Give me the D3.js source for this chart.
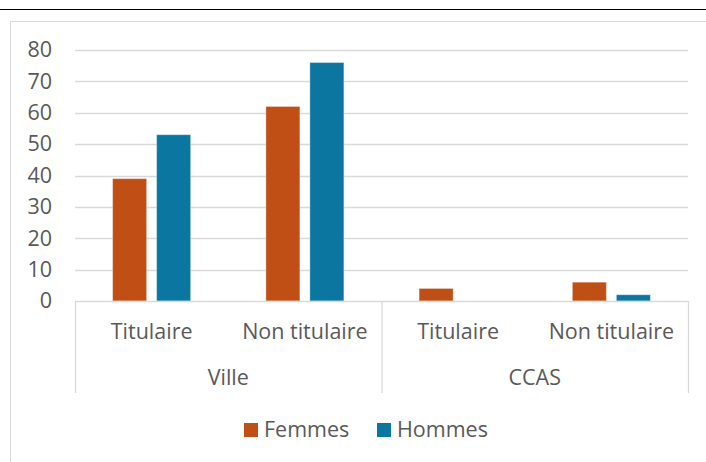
<!DOCTYPE html>
<html>
<head>
<meta charset="utf-8">
<script src="https://cdn.jsdelivr.net/npm/d3@7"></script>
<style>
  body { margin: 0; background: white; }
  text { font-family: 'Open Sans', sans-serif; fill: #595959; font-size: 21.5px; }
</style>
</head>
<body>
<script>
const groups = ['Ville', 'CCAS']
const statuts = ['Titulaire', 'Non titulaire']
const series = ['Femmes', 'Hommes']
const femmes = [39, 62, 4, 6]
const hommes = [53, 76, 0, 2]
const yTicks = [0, 10, 20, 30, 40, 50, 60, 70, 80]
const colors = ['#C04F15', '#0B76A0']

const cats = []
groups.forEach(g => statuts.forEach(s => cats.push({ group: g, statut: s, key: g + '|' + s })))
cats.forEach((c, i) => { c.values = [femmes[i], hommes[i]] })

const W = 706, H = 462
const svg = d3.select('body').append('svg')
    .attr('width', W)
    .attr('height', H)

// top rule and chart frame
svg.append('line')
    .attr('x1', 0).attr('x2', W)
    .attr('y1', 9.5).attr('y2', 9.5)
    .attr('stroke', '#000')
svg.append('rect')
    .attr('x', 10.5).attr('y', 21.5)
    .attr('width', 720).attr('height', 460)
    .attr('fill', 'none')
    .attr('stroke', '#d9d9d9')

const plot = { left: 75, right: 688, top: 50, bottom: 301 }

const x = d3.scaleBand()
    .domain(cats.map(d => d.key))
    .range([plot.left, plot.right])
    .paddingInner(0)
    .paddingOuter(0)

const xInner = d3.scaleBand()
    .domain(series)
    .range([0, x.bandwidth()])
    .paddingInner(0.227)
    .paddingOuter(0.855)

const y = d3.scaleLinear()
    .domain([0, 80])
    .range([plot.bottom, plot.top])

// gridlines
svg.append('g')
    .selectAll('line')
    .data(yTicks.slice(1))
    .enter().append('line')
    .attr('x1', plot.left).attr('x2', plot.right)
    .attr('y1', d => Math.round(y(d)) + 0.5)
    .attr('y2', d => Math.round(y(d)) + 0.5)
    .attr('stroke', '#d9d9d9')
    .attr('stroke-width', 1.3)

// y labels
svg.append('g')
    .selectAll('text')
    .data(yTicks)
    .enter().append('text')
    .attr('x', 52)
    .attr('y', d => y(d))
    .attr('dy', '0.34em')
    .style('text-anchor', 'end')
    .text(d => d)

// bars
const catG = svg.append('g')
    .selectAll('g')
    .data(cats)
    .enter().append('g')
    .attr('transform', d => `translate(${x(d.key)}, 0)`)

catG.selectAll('rect')
    .data(d => d.values.map((v, i) => ({ s: series[i], v: v, i: i })).filter(d => d.v > 0))
    .enter().append('rect')
    .attr('x', d => xInner(d.s))
    .attr('y', d => y(d.v))
    .attr('width', xInner.bandwidth())
    .attr('height', d => y(0) - y(d.v))
    .style('fill', d => colors[d.i])
    .style('stroke', '#fff')
    .style('stroke-opacity', 0.35)
    .style('stroke-width', 1)

// axis line and group separators
const axisCol = '#d9d9d9'
svg.append('line')
    .attr('x1', plot.left).attr('x2', plot.right)
    .attr('y1', plot.bottom + 0.5).attr('y2', plot.bottom + 0.5)
    .attr('stroke', axisCol).attr('stroke-width', 1.3)

const sepX = [plot.left, x(cats[2].key), plot.right]
svg.append('g')
    .selectAll('line')
    .data(sepX)
    .enter().append('line')
    .attr('x1', d => d + 0.5).attr('x2', d => d + 0.5)
    .attr('y1', plot.bottom).attr('y2', 393)
    .attr('stroke', axisCol).attr('stroke-width', 1.3)

// category labels
svg.append('g')
    .selectAll('text')
    .data(cats)
    .enter().append('text')
    .attr('x', d => x(d.key) + x.bandwidth() / 2)
    .attr('y', 339)
    .style('text-anchor', 'middle')
    .text(d => d.statut)

svg.append('g')
    .selectAll('text')
    .data(groups)
    .enter().append('text')
    .attr('x', (d, i) => (sepX[i] + sepX[i + 1]) / 2)
    .attr('y', 385)
    .style('text-anchor', 'middle')
    .text(d => d)

// legend
const legendPos = [244, 377]
const legend = svg.append('g')
    .selectAll('g')
    .data(series)
    .enter().append('g')
    .attr('transform', (d, i) => `translate(${legendPos[i]}, 423)`)

legend.append('rect')
    .attr('width', 14)
    .attr('height', 14)
    .style('fill', (d, i) => colors[i])

legend.append('text')
    .attr('x', 20)
    .attr('y', 13.5)
    .text(d => d)
</script>
</body>
</html>
